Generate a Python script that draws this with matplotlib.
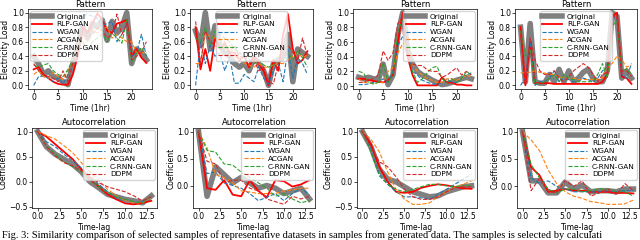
import matplotlib
matplotlib.use("Agg")
import matplotlib.pyplot as plt
import numpy as np

names = ["Original", "RLP-GAN", "WGAN", "ACGAN", "C-RNN-GAN", "DDPM"]

hours = np.arange(24)
lags = np.arange(14)

# Pattern panels (electricity load, 24 hourly values)
pat1 = {
    "Original": [0.40, 0.30, 0.15, 0.20, 0.12, 0.10, 0.05, 0.01, 0.30, 0.55, 0.80, 0.65, 0.85, 0.80, 0.90, 0.62, 0.88, 0.72, 0.80, 1.0, 0.30, 0.50, 0.45, 0.35],
    "RLP-GAN": [0.22, 0.25, 0.15, 0.10, 0.05, 0.02, 0.01, 0.01, 0.15, 0.40, 0.80, 0.72, 0.85, 0.99, 0.90, 0.75, 0.72, 0.85, 0.87, 0.90, 0.40, 0.50, 0.38, 0.31],
    "WGAN": [0.0, 0.12, 0.13, 0.10, 0.05, 0.10, 0.02, 0.15, 0.35, 0.60, 0.95, 0.98, 0.95, 0.92, 0.83, 0.85, 0.88, 0.60, 0.70, 0.85, 0.40, 0.45, 0.70, 0.40],
    "ACGAN": [0.15, 0.20, 0.12, 0.10, 0.18, 0.12, 0.08, 0.20, 0.35, 0.60, 0.70, 0.60, 0.75, 0.72, 0.78, 0.80, 0.65, 0.70, 0.65, 0.60, 0.60, 0.45, 0.45, 0.45],
    "C-RNN-GAN": [0.28, 0.25, 0.28, 0.30, 0.20, 0.15, 0.12, 0.22, 0.35, 0.55, 0.60, 0.48, 0.60, 0.65, 0.70, 0.60, 0.72, 0.65, 0.58, 0.90, 0.30, 0.45, 0.52, 0.40],
    "DDPM": [0.30, 0.20, 0.15, 0.12, 0.10, 0.05, 0.20, 0.05, 0.30, 0.55, 0.75, 0.65, 0.70, 0.80, 0.75, 0.65, 0.70, 0.98, 0.70, 0.85, 0.35, 0.40, 0.45, 0.60],
}
pat2 = {
    "Original": [0.75, 0.55, 1.0, 0.50, 0.82, 0.55, 0.45, 0.40, 0.30, 0.25, 0.30, 0.20, 0.38, 0.30, 0.20, 0.0, 0.30, 0.35, 0.40, 0.70, 0.05, 0.50, 0.45, 0.40],
    "RLP-GAN": [0.80, 0.22, 0.50, 0.20, 0.65, 0.50, 0.57, 0.45, 0.45, 0.35, 0.40, 0.25, 0.40, 0.30, 0.20, 0.0, 0.35, 0.20, 0.70, 0.98, 0.50, 0.30, 0.35, 0.47],
    "WGAN": [0.0, 0.60, 0.30, 0.55, 0.40, 0.45, 0.20, 0.40, 0.03, 0.03, 0.15, 0.10, 0.05, 0.25, 0.10, 0.02, 0.20, 0.30, 0.05, 0.50, 0.10, 0.38, 0.30, 0.15],
    "ACGAN": [0.30, 0.30, 0.70, 0.68, 0.65, 0.60, 0.50, 0.55, 0.40, 0.35, 0.30, 0.28, 0.25, 0.30, 0.25, 0.25, 0.28, 0.30, 0.30, 0.35, 0.40, 0.45, 0.38, 0.42],
    "C-RNN-GAN": [0.65, 0.60, 0.80, 0.55, 0.75, 0.70, 0.65, 0.60, 0.50, 0.45, 0.40, 0.35, 0.30, 0.35, 0.28, 0.25, 0.28, 0.32, 0.35, 0.45, 0.35, 0.48, 0.38, 0.25],
    "DDPM": [0.88, 0.30, 0.75, 0.60, 0.55, 0.50, 0.60, 0.45, 0.55, 0.40, 0.38, 0.30, 0.35, 0.20, 0.25, 0.05, 0.02, 0.30, 0.35, 0.55, 0.45, 0.35, 0.65, 0.40],
}
pat3 = {
    "Original": [0.12, 0.10, 0.12, 0.10, 0.08, 0.30, 0.02, 0.15, 0.70, 1.0, 0.50, 0.30, 0.20, 0.15, 0.12, 0.08, 0.05, 0.02, 0.03, 0.05, 0.08, 0.10, 0.12, 0.10],
    "RLP-GAN": [0.10, 0.10, 0.08, 0.07, 0.06, 0.05, 0.08, 0.15, 0.60, 1.0, 0.40, 0.15, 0.01, 0.01, 0.01, 0.01, 0.01, 0.12, 0.05, 0.05, 0.02, 0.02, 0.01, 0.01],
    "WGAN": [0.02, 0.02, 0.03, 0.05, 0.05, 0.10, 0.05, 0.20, 0.55, 0.68, 0.50, 0.20, 0.15, 0.08, 0.05, 0.03, 0.02, 0.05, 0.10, 0.05, 0.05, 0.10, 0.15, 0.18],
    "ACGAN": [0.10, 0.05, 0.05, 0.03, 0.05, 0.05, 0.20, 0.25, 0.45, 0.58, 0.55, 0.30, 0.20, 0.15, 0.10, 0.08, 0.05, 0.05, 0.10, 0.10, 0.08, 0.10, 0.15, 0.12],
    "C-RNN-GAN": [0.20, 0.18, 0.05, 0.03, 0.05, 0.32, 0.05, 0.15, 0.75, 0.90, 0.50, 0.20, 0.05, 0.10, 0.18, 0.25, 0.27, 0.10, 0.05, 0.10, 0.05, 0.10, 0.20, 0.15],
    "DDPM": [0.05, 0.05, 0.08, 0.10, 0.15, 0.48, 0.35, 0.45, 0.85, 0.95, 0.45, 0.30, 0.28, 0.28, 0.22, 0.20, 0.20, 0.12, 0.15, 0.20, 0.25, 0.15, 0.20, 0.15],
}
pat4 = {
    "Original": [0.80, 0.05, 0.85, 0.05, 0.03, 0.03, 0.15, 0.05, 0.22, 0.05, 0.20, 0.05, 0.10, 0.18, 0.22, 0.10, 0.05, 0.05, 0.20, 1.0, 0.95, 0.10, 0.20, 0.10],
    "RLP-GAN": [0.80, 0.0, 0.60, 0.03, 0.03, 0.03, 0.03, 0.02, 0.02, 0.02, 0.02, 0.02, 0.02, 0.02, 0.02, 0.02, 0.02, 0.05, 0.15, 0.95, 1.0, 0.12, 0.10, 0.02],
    "WGAN": [0.0, 0.10, 0.60, 0.0, 0.05, 0.05, 0.10, 0.20, 0.05, 0.10, 0.08, 0.05, 0.05, 0.10, 0.08, 0.05, 0.10, 0.20, 0.25, 0.95, 0.90, 0.15, 0.10, 0.30],
    "ACGAN": [0.17, 0.18, 0.18, 0.20, 0.18, 0.17, 0.15, 0.15, 0.12, 0.10, 0.10, 0.10, 0.08, 0.08, 0.08, 0.08, 0.08, 0.10, 0.25, 0.30, 0.40, 0.35, 0.25, 0.28],
    "C-RNN-GAN": [0.75, 0.40, 0.50, 0.02, 0.02, 0.05, 0.10, 0.15, 0.05, 0.15, 0.10, 0.08, 0.05, 0.05, 0.05, 0.05, 0.15, 0.30, 0.10, 0.80, 0.90, 0.20, 0.22, 0.15],
    "DDPM": [0.70, 0.05, 0.65, 0.35, 0.20, 0.15, 0.15, 0.20, 0.10, 0.05, 0.12, 0.20, 0.25, 0.30, 0.25, 0.15, 0.05, 0.15, 0.18, 0.95, 0.95, 0.20, 0.20, 0.12],
}

# Autocorrelation panels (lags 0..13)
acf1 = {
    "Original": [1.0, 0.70, 0.55, 0.45, 0.35, 0.20, 0.0, -0.12, -0.25, -0.30, -0.35, -0.38, -0.42, -0.28],
    "RLP-GAN": [1.0, 0.90, 0.75, 0.60, 0.45, 0.25, 0.05, -0.10, -0.25, -0.35, -0.43, -0.45, -0.42, -0.38],
    "WGAN": [1.0, 0.80, 0.70, 0.55, 0.42, 0.28, 0.10, -0.05, -0.20, -0.32, -0.40, -0.42, -0.40, -0.30],
    "ACGAN": [1.0, 0.92, 0.85, 0.72, 0.58, 0.38, 0.20, 0.02, -0.15, -0.28, -0.38, -0.42, -0.42, -0.30],
    "C-RNN-GAN": [1.0, 0.72, 0.55, 0.40, 0.30, 0.20, 0.05, -0.10, -0.22, -0.30, -0.35, -0.40, -0.42, -0.28],
    "DDPM": [1.0, 0.70, 0.52, 0.38, 0.32, 0.22, 0.10, -0.02, -0.10, -0.15, -0.20, -0.28, -0.38, -0.30],
}
acf2 = {
    "Original": [1.0, -0.20, 0.35, 0.20, 0.05, 0.15, 0.05, -0.05, 0.0, -0.05, -0.15, -0.10, -0.05, -0.25],
    "RLP-GAN": [1.0, -0.05, -0.08, 0.10, -0.17, -0.20, 0.10, -0.10, -0.22, 0.10, 0.08, -0.02, 0.02, 0.10],
    "WGAN": [1.0, 0.22, 0.25, 0.05, 0.0, -0.05, -0.15, -0.28, -0.22, -0.15, -0.28, -0.15, -0.05, -0.18],
    "ACGAN": [1.0, 0.70, 0.20, 0.15, 0.05, -0.10, -0.12, -0.15, -0.15, -0.15, -0.10, -0.08, -0.05, -0.05],
    "C-RNN-GAN": [1.0, 0.65, 0.62, 0.40, 0.38, 0.25, 0.15, 0.05, -0.05, -0.20, -0.15, -0.25, -0.32, -0.28],
    "DDPM": [1.0, 0.45, 0.40, 0.05, 0.10, 0.10, -0.05, -0.10, -0.25, -0.30, -0.35, -0.20, -0.25, -0.20],
}
acf3 = {
    "Original": [1.0, 0.70, 0.25, 0.05, 0.0, -0.10, -0.20, -0.25, -0.30, -0.28, -0.20, -0.15, -0.10, -0.08],
    "RLP-GAN": [1.0, 0.75, 0.30, 0.0, -0.20, -0.22, -0.20, -0.12, -0.08, -0.05, -0.07, -0.10, -0.13, -0.14],
    "WGAN": [1.0, 0.65, 0.15, -0.05, -0.20, -0.30, -0.30, -0.32, -0.35, -0.25, -0.15, -0.05, 0.05, 0.15],
    "ACGAN": [1.0, 0.85, 0.60, 0.20, -0.15, -0.35, -0.45, -0.45, -0.42, -0.30, -0.20, -0.10, -0.05, 0.02],
    "C-RNN-GAN": [1.0, 0.60, 0.12, -0.05, -0.15, -0.20, -0.15, -0.10, -0.05, -0.05, -0.08, -0.10, -0.08, -0.08],
    "DDPM": [1.0, 0.70, 0.40, 0.30, 0.10, -0.15, -0.30, -0.35, -0.35, -0.30, -0.20, -0.12, -0.10, -0.10],
}
acf4 = {
    "Original": [1.0, 0.10, 0.10, -0.12, -0.12, 0.08, -0.05, 0.02, -0.10, -0.08, -0.08, -0.10, -0.05, -0.05],
    "RLP-GAN": [1.0, 0.35, 0.20, -0.10, -0.08, -0.05, -0.08, -0.08, -0.10, -0.10, -0.10, -0.12, -0.12, -0.13],
    "WGAN": [1.0, 0.15, 0.05, 0.10, 0.0, -0.05, -0.10, -0.10, -0.10, -0.10, -0.08, -0.10, -0.08, -0.08],
    "ACGAN": [1.0, 0.85, 0.65, 0.30, 0.05, -0.10, -0.18, -0.22, -0.28, -0.30, -0.33, -0.33, -0.32, -0.25],
    "C-RNN-GAN": [1.0, 0.40, 0.15, -0.05, -0.12, -0.05, -0.05, -0.10, -0.08, -0.05, -0.05, -0.10, -0.10, -0.18],
    "DDPM": [1.0, -0.08, 0.15, -0.10, -0.12, 0.10, 0.00, 0.10, -0.18, -0.12, -0.05, -0.15, 0.05, -0.08],
}

caption = ("Fig. 3: Similarity comparison of selected samples of representative datasets in "
           "samples from generated data. The samples is selected by calculati")

styles = {
    "Original": dict(color="gray", lw=4, ls="-"),
    "RLP-GAN": dict(color="red", lw=1.3, ls="-"),
    "WGAN": dict(color="tab:blue", lw=0.8, ls="--"),
    "ACGAN": dict(color="tab:orange", lw=0.8, ls="--"),
    "C-RNN-GAN": dict(color="tab:green", lw=0.8, ls="--"),
    "DDPM": dict(color="tab:red", lw=0.8, ls="--"),
}

W, H = 640, 240
fig = plt.figure(figsize=(6.4, 2.4), dpi=100)


def px_axes(l, t, r, b):
    return fig.add_axes([l / W, 1 - b / H, (r - l) / W, (b - t) / H])


top_boxes = [(28, 9, 152, 89), (190, 9, 313, 89), (353, 9, 477, 89), (515, 9, 637, 89)]
bot_boxes = [(32, 128, 157, 208), (193, 128, 315, 208), (357, 128, 477, 208), (517, 128, 639, 208)]
top_legend = ["upper left", "upper center", "upper right", "upper center"]

fs = 5.5
leg_kw = dict(fontsize=5.3, handlelength=2.6, borderpad=0.3, labelspacing=0.22,
              handletextpad=0.7, borderaxespad=0.3)

for box, data, loc in zip(top_boxes, [pat1, pat2, pat3, pat4], top_legend):
    ax = px_axes(*box)
    for n in names:
        ax.plot(hours, data[n], label=n, **styles[n])
    ax.set_title("Pattern", fontsize=6, pad=1.5)
    ax.set_xlabel("Time (1hr)", fontsize=fs, labelpad=1)
    ax.set_ylabel("Electricity Load", fontsize=fs, labelpad=1)
    ax.set_xticks([0, 5, 10, 15, 20])
    ax.set_yticks([0.0, 0.2, 0.4, 0.6, 0.8, 1.0])
    ax.tick_params(labelsize=fs, length=2, pad=1, width=0.5)
    for s in ax.spines.values():
        s.set_linewidth(0.5)
    ax.legend(loc=loc, **leg_kw)

for box, data in zip(bot_boxes, [acf1, acf2, acf3, acf4]):
    ax = px_axes(*box)
    for n in names:
        ax.plot(lags, data[n], label=n, **styles[n])
    ax.set_title("Autocorrelation", fontsize=6, pad=2.5)
    ax.set_xlabel("Time-lag", fontsize=fs, labelpad=1)
    ax.set_ylabel("Coefficient", fontsize=fs, labelpad=1)
    ax.set_xticks([0.0, 2.5, 5.0, 7.5, 10.0, 12.5])
    ax.tick_params(labelsize=fs, length=2, pad=1, width=0.5)
    for s in ax.spines.values():
        s.set_linewidth(0.5)
    ax.legend(loc="upper right", **leg_kw)

fig.text(2 / W, 1 - 235 / H, caption, fontsize=7.5, family="Liberation Serif",
         ha="left", va="center")

fig.savefig("out.png", dpi=100)
